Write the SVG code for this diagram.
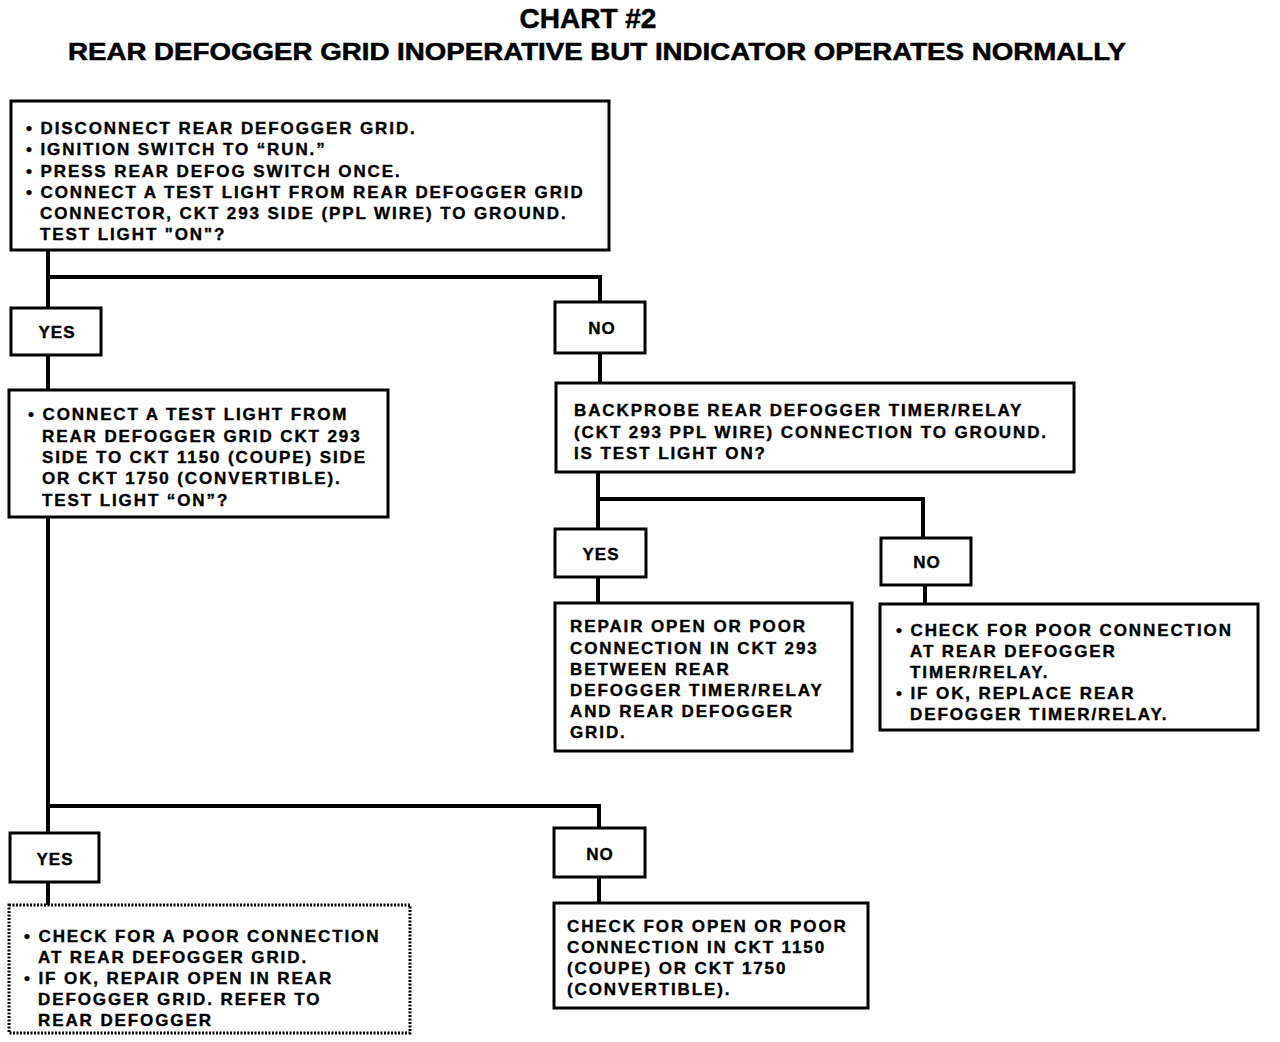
<svg xmlns="http://www.w3.org/2000/svg" width="1280" height="1042" viewBox="0 0 1280 1042">
<style>
.box{fill:#fff;stroke:#000;stroke-width:3}
.dot{fill:#fff;stroke:#000;stroke-width:3;stroke-dasharray:2 1.5}
.t{font-family:"Liberation Sans",Arial,sans-serif;font-weight:bold;font-size:17px;letter-spacing:1.9px;fill:#000;stroke:#000;stroke-width:0.4}
.lbl{font-family:"Liberation Sans",Arial,sans-serif;font-weight:bold;font-size:17px;letter-spacing:1px;fill:#000;stroke:#000;stroke-width:0.4;text-anchor:middle}
.title{font-family:"Liberation Sans",Arial,sans-serif;font-weight:bold;fill:#000;stroke:#000;stroke-width:0.5;text-anchor:middle}
.c{fill:none;stroke:#000;stroke-width:4}
</style>
<rect width="1280" height="1042" fill="#fff"/>
<text class="title" x="588" y="28" font-size="28">CHART #2</text>
<text class="title" x="597" y="60" font-size="23" textLength="1058" lengthAdjust="spacingAndGlyphs">REAR DEFOGGER GRID INOPERATIVE BUT INDICATOR OPERATES NORMALLY</text>
<g id="connectors">
<path class="c" d="M48 250 V905"/>
<path class="c" d="M48 277 H600 V302"/>
<path class="c" d="M600 353 V384"/>
<path class="c" d="M598 472 V529"/>
<path class="c" d="M598 499 H923 V538"/>
<path class="c" d="M598 577 V603"/>
<path class="c" d="M925 585 V604"/>
<path class="c" d="M48 806 H599 V828"/>
<path class="c" d="M599 877 V903"/>
</g>
<g id="start">
<rect class="box" x="11" y="101" width="598" height="149"/>
<text class="t" x="26" y="134">• DISCONNECT REAR DEFOGGER GRID.</text>
<text class="t" x="26" y="155">• IGNITION SWITCH TO “RUN.”</text>
<text class="t" x="26" y="177">• PRESS REAR DEFOG SWITCH ONCE.</text>
<text class="t" x="26" y="198">• CONNECT A TEST LIGHT FROM REAR DEFOGGER GRID</text>
<text class="t" x="40" y="219">CONNECTOR, CKT 293 SIDE (PPL WIRE) TO GROUND.</text>
<text class="t" x="40" y="240">TEST LIGHT "ON"?</text>
</g>
<g id="yes1">
<rect class="box" x="11" y="308" width="90" height="47"/>
<text class="lbl" x="57" y="338">YES</text>
</g>
<g id="no1">
<rect class="box" x="555" y="302" width="90" height="51"/>
<text class="lbl" x="602" y="334">NO</text>
</g>
<g id="test2">
<rect class="box" x="9" y="390" width="379" height="127"/>
<text class="t" x="28" y="420">• CONNECT A TEST LIGHT FROM</text>
<text class="t" x="42" y="442">REAR DEFOGGER GRID CKT 293</text>
<text class="t" x="42" y="463">SIDE TO CKT 1150 (COUPE) SIDE</text>
<text class="t" x="42" y="484">OR CKT 1750 (CONVERTIBLE).</text>
<text class="t" x="42" y="506">TEST LIGHT “ON”?</text>
</g>
<g id="backprobe">
<rect class="box" x="556" y="383" width="518" height="89"/>
<text class="t" x="574" y="416">BACKPROBE REAR DEFOGGER TIMER/RELAY</text>
<text class="t" x="574" y="438">(CKT 293 PPL WIRE) CONNECTION TO GROUND.</text>
<text class="t" x="574" y="459">IS TEST LIGHT ON?</text>
</g>
<g id="yes2">
<rect class="box" x="555" y="529" width="91" height="48"/>
<text class="lbl" x="601" y="560">YES</text>
</g>
<g id="no2">
<rect class="box" x="881" y="538" width="90" height="47"/>
<text class="lbl" x="927" y="568">NO</text>
</g>
<g id="repair293">
<rect class="box" x="555" y="603" width="297" height="148"/>
<text class="t" x="570" y="632">REPAIR OPEN OR POOR</text>
<text class="t" x="570" y="654">CONNECTION IN CKT 293</text>
<text class="t" x="570" y="675">BETWEEN REAR</text>
<text class="t" x="570" y="696">DEFOGGER TIMER/RELAY</text>
<text class="t" x="570" y="717">AND REAR DEFOGGER</text>
<text class="t" x="570" y="738">GRID.</text>
</g>
<g id="checkrelay">
<rect class="box" x="880" y="604" width="378" height="126"/>
<text class="t" x="896" y="636">• CHECK FOR POOR CONNECTION</text>
<text class="t" x="910" y="657">AT REAR DEFOGGER</text>
<text class="t" x="910" y="678">TIMER/RELAY.</text>
<text class="t" x="896" y="699">• IF OK, REPLACE REAR</text>
<text class="t" x="910" y="720">DEFOGGER TIMER/RELAY.</text>
</g>
<g id="yes3">
<rect class="box" x="10" y="833" width="89" height="49"/>
<text class="lbl" x="55" y="865">YES</text>
</g>
<g id="no3">
<rect class="box" x="554" y="828" width="91" height="49"/>
<text class="lbl" x="600" y="860">NO</text>
</g>
<g id="checkgrid">
<rect class="dot" x="9" y="905" width="401" height="128"/>
<text class="t" x="24" y="942">• CHECK FOR A POOR CONNECTION</text>
<text class="t" x="38" y="963">AT REAR DEFOGGER GRID.</text>
<text class="t" x="24" y="984">• IF OK, REPAIR OPEN IN REAR</text>
<text class="t" x="38" y="1005">DEFOGGER GRID. REFER TO</text>
<text class="t" x="38" y="1026">REAR DEFOGGER</text>
</g>
<g id="check1150">
<rect class="box" x="554" y="903" width="314" height="105"/>
<text class="t" x="567" y="932">CHECK FOR OPEN OR POOR</text>
<text class="t" x="567" y="953">CONNECTION IN CKT 1150</text>
<text class="t" x="567" y="974">(COUPE) OR CKT 1750</text>
<text class="t" x="567" y="995">(CONVERTIBLE).</text>
</g>
</svg>
